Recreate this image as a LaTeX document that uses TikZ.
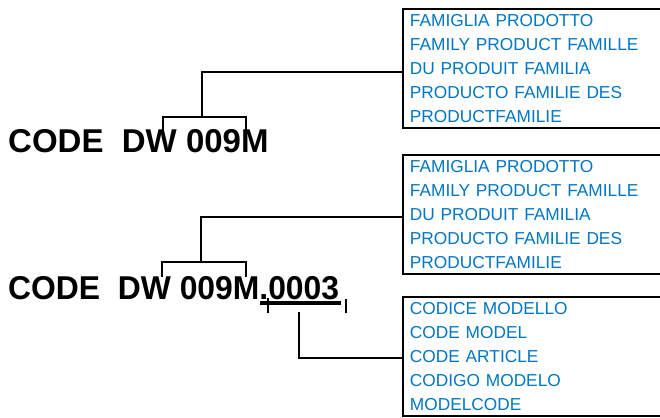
\documentclass[tikz,border=0pt]{standalone}
\usepackage{fontspec}
\setmainfont{Liberation Sans}
\usetikzlibrary{calc}
\definecolor{labelblue}{RGB}{0,118,196}
\tikzset{
    legend/.style = {draw, line width = 1.9pt, anchor = north west, text width = 247pt,
        minimum height = 119pt, inner xsep = 7pt, inner ysep = 0pt, align = left,
        text = labelblue, font = \fontsize{17.3}{24}\selectfont},
    code/.style = {anchor = base west, inner sep = 0pt, font = \bfseries\fontsize{33}{36}\selectfont},
    link/.style = {line width = 2pt}
}

\begin{document}
\begin{tikzpicture}[x = 1pt, y = -1pt]
    \clip (0,0) rectangle (660,417);
    \node[legend] (famA) at (402,8) {FAMIGLIA PRODOTTO\\FAMILY PRODUCT FAMILLE\\DU PRODUIT FAMILIA\\PRODUCTO FAMILIE DES\\PRODUCTFAMILIE};
    \node[legend] (famB) at (402,154) {FAMIGLIA PRODOTTO\\FAMILY PRODUCT FAMILLE\\DU PRODUIT FAMILIA\\PRODUCTO FAMILIE DES\\PRODUCTFAMILIE};
    \node[legend] (model) at (402,296) {CODICE MODELLO\\CODE MODEL\\CODE ARTICLE\\CODIGO MODELO\\MODELCODE};
    \node[code] (codeA) at (8,152) {CODE\ \ DW 009M};
    \node[code] (codeB) at (8,299) {\scalebox{0.965}[1]{CODE\ \ DW 009M.0003}};
    \coordinate (jA) at (202,72);
    \coordinate (jB) at (201,217);
    \coordinate (jC) at (299,358);
    \draw[link] (163,137) -- (163,117) -- (246,117) -- (246,137);
    \draw[link] (202,117) -- (jA) -- (jA -| famA.west);
    \draw[link] (162,277) -- (162,262) -- (246,262) -- (246,277);
    \draw[link] (201,262) -- (jB) -- (jB -| famB.west);
    \draw[line width = 3.5pt] (260,303) -- (341,303);
    \draw[link] (268,298) -- (268,313);
    \draw[link] (346,299) -- (346,313);
    \draw[link] (299,312) -- (jC) -- (jC -| model.west);
\end{tikzpicture}
\end{document}
